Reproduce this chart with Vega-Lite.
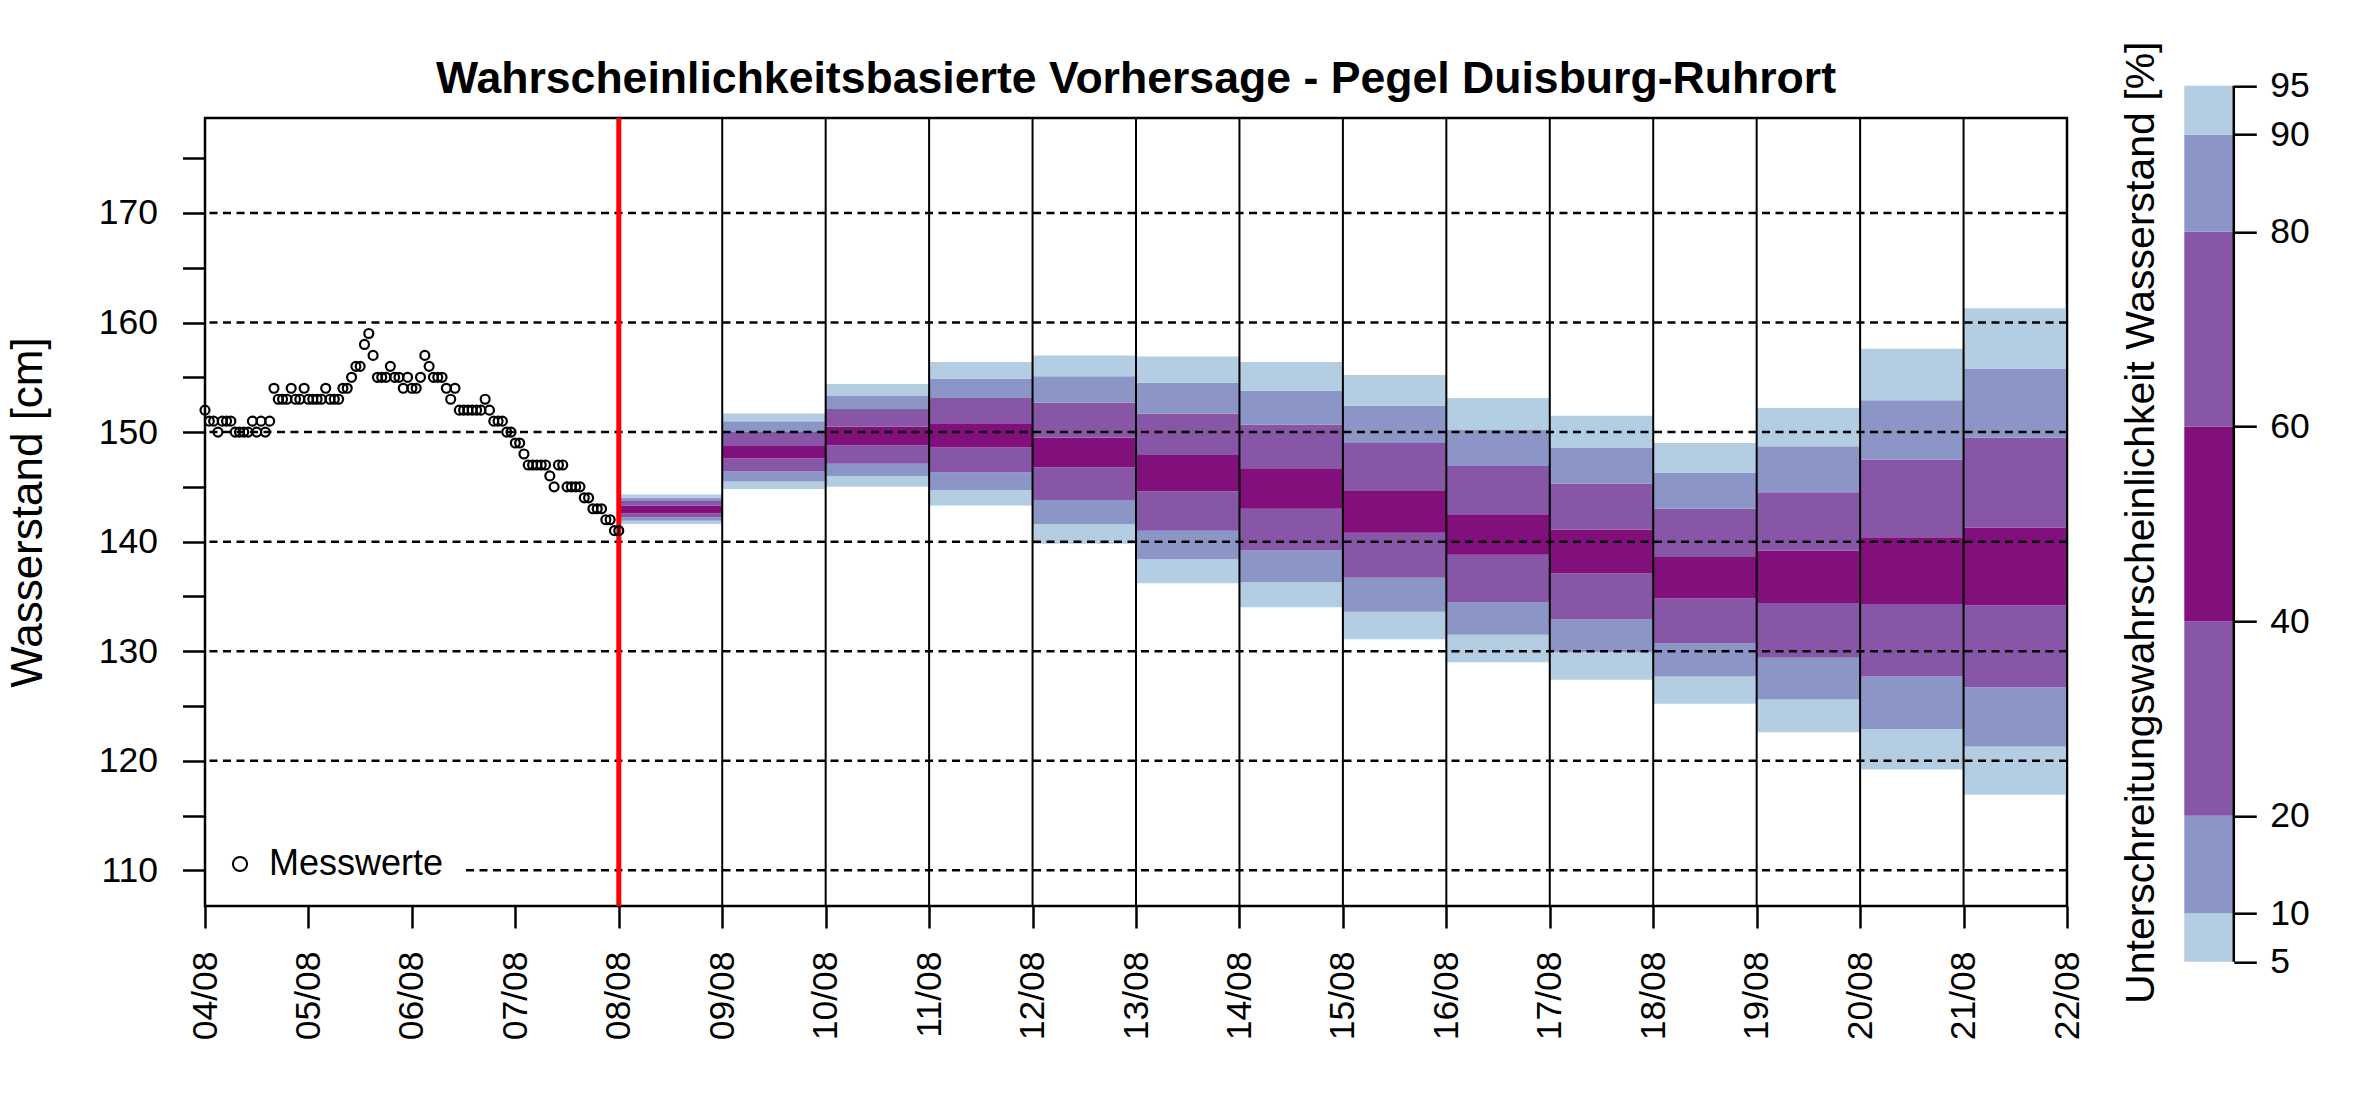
{
  "$schema": "https://vega.github.io/schema/vega-lite/v6.json",
  "background": "white",
  "padding": {"left": 5, "top": 41, "right": 20, "bottom": 20},
  "datasets": {
    "messwerte": [
      {"t": "2023-08-04T00:00", "w": 152}, {"t": "2023-08-04T01:00", "w": 151}, {"t": "2023-08-04T02:00", "w": 151}, {"t": "2023-08-04T03:00", "w": 150},
      {"t": "2023-08-04T04:00", "w": 151}, {"t": "2023-08-04T05:00", "w": 151}, {"t": "2023-08-04T06:00", "w": 151}, {"t": "2023-08-04T07:00", "w": 150},
      {"t": "2023-08-04T08:00", "w": 150}, {"t": "2023-08-04T09:00", "w": 150}, {"t": "2023-08-04T10:00", "w": 150}, {"t": "2023-08-04T11:00", "w": 151},
      {"t": "2023-08-04T12:00", "w": 150}, {"t": "2023-08-04T13:00", "w": 151}, {"t": "2023-08-04T14:00", "w": 150}, {"t": "2023-08-04T15:00", "w": 151},
      {"t": "2023-08-04T16:00", "w": 154}, {"t": "2023-08-04T17:00", "w": 153}, {"t": "2023-08-04T18:00", "w": 153}, {"t": "2023-08-04T19:00", "w": 153},
      {"t": "2023-08-04T20:00", "w": 154}, {"t": "2023-08-04T21:00", "w": 153}, {"t": "2023-08-04T22:00", "w": 153}, {"t": "2023-08-04T23:00", "w": 154},
      {"t": "2023-08-05T00:00", "w": 153}, {"t": "2023-08-05T01:00", "w": 153}, {"t": "2023-08-05T02:00", "w": 153}, {"t": "2023-08-05T03:00", "w": 153},
      {"t": "2023-08-05T04:00", "w": 154}, {"t": "2023-08-05T05:00", "w": 153}, {"t": "2023-08-05T06:00", "w": 153}, {"t": "2023-08-05T07:00", "w": 153},
      {"t": "2023-08-05T08:00", "w": 154}, {"t": "2023-08-05T09:00", "w": 154}, {"t": "2023-08-05T10:00", "w": 155}, {"t": "2023-08-05T11:00", "w": 156},
      {"t": "2023-08-05T12:00", "w": 156}, {"t": "2023-08-05T13:00", "w": 158}, {"t": "2023-08-05T14:00", "w": 159}, {"t": "2023-08-05T15:00", "w": 157},
      {"t": "2023-08-05T16:00", "w": 155}, {"t": "2023-08-05T17:00", "w": 155}, {"t": "2023-08-05T18:00", "w": 155}, {"t": "2023-08-05T19:00", "w": 156},
      {"t": "2023-08-05T20:00", "w": 155}, {"t": "2023-08-05T21:00", "w": 155}, {"t": "2023-08-05T22:00", "w": 154}, {"t": "2023-08-05T23:00", "w": 155},
      {"t": "2023-08-06T00:00", "w": 154}, {"t": "2023-08-06T01:00", "w": 154}, {"t": "2023-08-06T02:00", "w": 155}, {"t": "2023-08-06T03:00", "w": 157},
      {"t": "2023-08-06T04:00", "w": 156}, {"t": "2023-08-06T05:00", "w": 155}, {"t": "2023-08-06T06:00", "w": 155}, {"t": "2023-08-06T07:00", "w": 155},
      {"t": "2023-08-06T08:00", "w": 154}, {"t": "2023-08-06T09:00", "w": 153}, {"t": "2023-08-06T10:00", "w": 154}, {"t": "2023-08-06T11:00", "w": 152},
      {"t": "2023-08-06T12:00", "w": 152}, {"t": "2023-08-06T13:00", "w": 152}, {"t": "2023-08-06T14:00", "w": 152}, {"t": "2023-08-06T15:00", "w": 152},
      {"t": "2023-08-06T16:00", "w": 152}, {"t": "2023-08-06T17:00", "w": 153}, {"t": "2023-08-06T18:00", "w": 152}, {"t": "2023-08-06T19:00", "w": 151},
      {"t": "2023-08-06T20:00", "w": 151}, {"t": "2023-08-06T21:00", "w": 151}, {"t": "2023-08-06T22:00", "w": 150}, {"t": "2023-08-06T23:00", "w": 150},
      {"t": "2023-08-07T00:00", "w": 149}, {"t": "2023-08-07T01:00", "w": 149}, {"t": "2023-08-07T02:00", "w": 148}, {"t": "2023-08-07T03:00", "w": 147},
      {"t": "2023-08-07T04:00", "w": 147}, {"t": "2023-08-07T05:00", "w": 147}, {"t": "2023-08-07T06:00", "w": 147}, {"t": "2023-08-07T07:00", "w": 147},
      {"t": "2023-08-07T08:00", "w": 146}, {"t": "2023-08-07T09:00", "w": 145}, {"t": "2023-08-07T10:00", "w": 147}, {"t": "2023-08-07T11:00", "w": 147},
      {"t": "2023-08-07T12:00", "w": 145}, {"t": "2023-08-07T13:00", "w": 145}, {"t": "2023-08-07T14:00", "w": 145}, {"t": "2023-08-07T15:00", "w": 145},
      {"t": "2023-08-07T16:00", "w": 144}, {"t": "2023-08-07T17:00", "w": 144}, {"t": "2023-08-07T18:00", "w": 143}, {"t": "2023-08-07T19:00", "w": 143},
      {"t": "2023-08-07T20:00", "w": 143}, {"t": "2023-08-07T21:00", "w": 142}, {"t": "2023-08-07T22:00", "w": 142}, {"t": "2023-08-07T23:00", "w": 141},
      {"t": "2023-08-08T00:00", "w": 141}
    ],
    "prognose": [
      {"t": "2023-08-08T00:00", "t2": "2023-08-09T00:00", "q05": 141.6, "q10": 141.9, "q20": 142.2, "q40": 142.6, "q60": 143.3, "q80": 143.7, "q90": 144.0, "q95": 144.3},
      {"t": "2023-08-09T00:00", "t2": "2023-08-10T00:00", "q05": 144.8, "q10": 145.5, "q20": 146.4, "q40": 147.6, "q60": 148.8, "q80": 150.0, "q90": 151.0, "q95": 151.7},
      {"t": "2023-08-10T00:00", "t2": "2023-08-11T00:00", "q05": 145.0, "q10": 146.0, "q20": 147.1, "q40": 148.8, "q60": 150.5, "q80": 152.1, "q90": 153.3, "q95": 154.4},
      {"t": "2023-08-11T00:00", "t2": "2023-08-12T00:00", "q05": 143.3, "q10": 144.7, "q20": 146.3, "q40": 148.6, "q60": 150.8, "q80": 153.1, "q90": 154.9, "q95": 156.4},
      {"t": "2023-08-12T00:00", "t2": "2023-08-13T00:00", "q05": 139.8, "q10": 141.6, "q20": 143.8, "q40": 146.8, "q60": 149.5, "q80": 152.7, "q90": 155.1, "q95": 157.0},
      {"t": "2023-08-13T00:00", "t2": "2023-08-14T00:00", "q05": 136.2, "q10": 138.4, "q20": 141.0, "q40": 144.6, "q60": 147.9, "q80": 151.7, "q90": 154.5, "q95": 156.9},
      {"t": "2023-08-14T00:00", "t2": "2023-08-15T00:00", "q05": 134.0, "q10": 136.3, "q20": 139.2, "q40": 143.0, "q60": 146.7, "q80": 150.7, "q90": 153.8, "q95": 156.4},
      {"t": "2023-08-15T00:00", "t2": "2023-08-16T00:00", "q05": 131.1, "q10": 133.6, "q20": 136.7, "q40": 140.8, "q60": 144.7, "q80": 149.0, "q90": 152.4, "q95": 155.2},
      {"t": "2023-08-16T00:00", "t2": "2023-08-17T00:00", "q05": 129.0, "q10": 131.5, "q20": 134.5, "q40": 138.8, "q60": 142.5, "q80": 146.9, "q90": 150.2, "q95": 153.1},
      {"t": "2023-08-17T00:00", "t2": "2023-08-18T00:00", "q05": 127.4, "q10": 129.9, "q20": 132.9, "q40": 137.1, "q60": 141.1, "q80": 145.3, "q90": 148.6, "q95": 151.5},
      {"t": "2023-08-18T00:00", "t2": "2023-08-19T00:00", "q05": 125.2, "q10": 127.7, "q20": 130.7, "q40": 134.8, "q60": 138.6, "q80": 143.0, "q90": 146.3, "q95": 149.0},
      {"t": "2023-08-19T00:00", "t2": "2023-08-20T00:00", "q05": 122.6, "q10": 125.6, "q20": 129.4, "q40": 134.4, "q60": 139.2, "q80": 144.5, "q90": 148.7, "q95": 152.2},
      {"t": "2023-08-20T00:00", "t2": "2023-08-21T00:00", "q05": 119.2, "q10": 122.9, "q20": 127.7, "q40": 134.3, "q60": 140.4, "q80": 147.5, "q90": 152.9, "q95": 157.6},
      {"t": "2023-08-21T00:00", "t2": "2023-08-22T00:00", "q05": 116.9, "q10": 121.3, "q20": 126.7, "q40": 134.2, "q60": 141.3, "q80": 149.5, "q90": 155.8, "q95": 161.3}
    ],
    "tage": [
      {"t": "2023-08-09T00:00"}, {"t": "2023-08-10T00:00"}, {"t": "2023-08-11T00:00"}, {"t": "2023-08-12T00:00"},
      {"t": "2023-08-13T00:00"}, {"t": "2023-08-14T00:00"}, {"t": "2023-08-15T00:00"}, {"t": "2023-08-16T00:00"},
      {"t": "2023-08-17T00:00"}, {"t": "2023-08-18T00:00"}, {"t": "2023-08-19T00:00"}, {"t": "2023-08-20T00:00"},
      {"t": "2023-08-21T00:00"}, {"t": "2023-08-22T00:00"}
    ],
    "gitter": [
      {"w": 110}, {"w": 120}, {"w": 130}, {"w": 140}, {"w": 150}, {"w": 160}, {"w": 170}
    ],
    "skala": [
      {"unten": 5, "oben": 10, "stufe": "5-10"},
      {"unten": 10, "oben": 20, "stufe": "10-20"},
      {"unten": 20, "oben": 40, "stufe": "20-40"},
      {"unten": 40, "oben": 60, "stufe": "40-60"},
      {"unten": 60, "oben": 80, "stufe": "60-80"},
      {"unten": 80, "oben": 90, "stufe": "80-90"},
      {"unten": 90, "oben": 95, "stufe": "90-95"}
    ]
  },
  "bounds": "flush",
  "center": true,
  "spacing": 117.3,
  "resolve": {"legend": {"shape": "independent", "color": "independent"}},
  "hconcat": [
    {
      "width": 1862,
      "height": 788,
      "view": {"stroke": "black", "strokeWidth": 2.5},
      "title": {
        "text": "Wahrscheinlichkeitsbasierte Vorhersage - Pegel Duisburg-Ruhrort",
        "fontSize": 44.6,
        "fontWeight": "bold",
        "baseline": "alphabetic",
        "offset": -22,
        "frame": "group",
        "anchor": "middle"
      },
      "layer": [
        {
          "data": {"name": "prognose"},
          "mark": {"type": "rect", "color": "#b3cde3"},
          "encoding": {
            "x": {"field": "t", "type": "temporal", "scale": {"domain": [{"year": 2023, "month": 8, "date": 4}, {"year": 2023, "month": 8, "date": 22}], "nice": false}, "axis": {"title": null}},
            "x2": {"field": "t2"},
            "y": {"field": "q05", "type": "quantitative", "scale": {"domain": [106.74, 178.67], "nice": false, "zero": false}, "axis": {"title": "Wasserstand [cm]"}},
            "y2": {"field": "q10"}
          }
        },
        {
          "data": {"name": "prognose"},
          "mark": {"type": "rect", "color": "#8c96c6"},
          "encoding": {
            "x": {"field": "t", "type": "temporal", "scale": {"domain": [{"year": 2023, "month": 8, "date": 4}, {"year": 2023, "month": 8, "date": 22}], "nice": false}, "axis": {"title": null}},
            "x2": {"field": "t2"},
            "y": {"field": "q10", "type": "quantitative", "scale": {"domain": [106.74, 178.67], "nice": false, "zero": false}, "axis": {"title": "Wasserstand [cm]"}},
            "y2": {"field": "q20"}
          }
        },
        {
          "data": {"name": "prognose"},
          "mark": {"type": "rect", "color": "#8856a7"},
          "encoding": {
            "x": {"field": "t", "type": "temporal", "scale": {"domain": [{"year": 2023, "month": 8, "date": 4}, {"year": 2023, "month": 8, "date": 22}], "nice": false}, "axis": {"title": null}},
            "x2": {"field": "t2"},
            "y": {"field": "q20", "type": "quantitative", "scale": {"domain": [106.74, 178.67], "nice": false, "zero": false}, "axis": {"title": "Wasserstand [cm]"}},
            "y2": {"field": "q40"}
          }
        },
        {
          "data": {"name": "prognose"},
          "mark": {"type": "rect", "color": "#810f7c"},
          "encoding": {
            "x": {"field": "t", "type": "temporal", "scale": {"domain": [{"year": 2023, "month": 8, "date": 4}, {"year": 2023, "month": 8, "date": 22}], "nice": false}, "axis": {"title": null}},
            "x2": {"field": "t2"},
            "y": {"field": "q40", "type": "quantitative", "scale": {"domain": [106.74, 178.67], "nice": false, "zero": false}, "axis": {"title": "Wasserstand [cm]"}},
            "y2": {"field": "q60"}
          }
        },
        {
          "data": {"name": "prognose"},
          "mark": {"type": "rect", "color": "#8856a7"},
          "encoding": {
            "x": {"field": "t", "type": "temporal", "scale": {"domain": [{"year": 2023, "month": 8, "date": 4}, {"year": 2023, "month": 8, "date": 22}], "nice": false}, "axis": {"title": null}},
            "x2": {"field": "t2"},
            "y": {"field": "q60", "type": "quantitative", "scale": {"domain": [106.74, 178.67], "nice": false, "zero": false}, "axis": {"title": "Wasserstand [cm]"}},
            "y2": {"field": "q80"}
          }
        },
        {
          "data": {"name": "prognose"},
          "mark": {"type": "rect", "color": "#8c96c6"},
          "encoding": {
            "x": {"field": "t", "type": "temporal", "scale": {"domain": [{"year": 2023, "month": 8, "date": 4}, {"year": 2023, "month": 8, "date": 22}], "nice": false}, "axis": {"title": null}},
            "x2": {"field": "t2"},
            "y": {"field": "q80", "type": "quantitative", "scale": {"domain": [106.74, 178.67], "nice": false, "zero": false}, "axis": {"title": "Wasserstand [cm]"}},
            "y2": {"field": "q90"}
          }
        },
        {
          "data": {"name": "prognose"},
          "mark": {"type": "rect", "color": "#b3cde3"},
          "encoding": {
            "x": {"field": "t", "type": "temporal", "scale": {"domain": [{"year": 2023, "month": 8, "date": 4}, {"year": 2023, "month": 8, "date": 22}], "nice": false}, "axis": {"title": null}},
            "x2": {"field": "t2"},
            "y": {"field": "q90", "type": "quantitative", "scale": {"domain": [106.74, 178.67], "nice": false, "zero": false}, "axis": {"title": "Wasserstand [cm]"}},
            "y2": {"field": "q95"}
          }
        },
        {
          "data": {"name": "tage"},
          "mark": {"type": "rule", "color": "black", "strokeWidth": 2},
          "encoding": {
            "x": {
              "field": "t", "type": "temporal",
              "scale": {"domain": [{"year": 2023, "month": 8, "date": 4}, {"year": 2023, "month": 8, "date": 22}], "nice": false},
              "axis": {
                "title": null,
                "tickCount": {"interval": "day", "step": 1},
                "format": "%d/%m",
                "labelAngle": 270,
                "labelFlush": false,
                "labelOverlap": false,
                "tickSize": 22,
                "tickWidth": 2.5,
                "labelPadding": 23,
                "domain": false
              }
            }
          }
        },
        {
          "data": {"name": "gitter"},
          "mark": {"type": "rule", "color": "black", "strokeWidth": 2.5, "strokeDash": [8, 5.5]},
          "encoding": {
            "y": {
              "field": "w", "type": "quantitative",
              "scale": {"domain": [106.74, 178.67], "nice": false, "zero": false},
              "axis": {
                "title": "Wasserstand [cm]",
                "titleFontSize": 44,
                "titlePadding": 48,
                "values": [110, 115, 120, 125, 130, 135, 140, 145, 150, 155, 160, 165, 170, 175],
                "labelExpr": "datum.value % 10 === 0 ? datum.label : ''",
                "labelOverlap": false,
                "labelFlush": false,
                "tickSize": 22.5,
                "tickWidth": 2.5,
                "labelPadding": 25,
                "domain": false
              }
            }
          }
        },
        {
          "data": {"values": [{"t": "2023-08-08T00:00"}]},
          "mark": {"type": "rule", "color": "#ff0000", "strokeWidth": 5},
          "encoding": {
            "x": {"field": "t", "type": "temporal", "scale": {"domain": [{"year": 2023, "month": 8, "date": 4}, {"year": 2023, "month": 8, "date": 22}], "nice": false}, "axis": {"title": null}}
          }
        },
        {
          "data": {"name": "messwerte"},
          "mark": {"type": "point", "filled": false, "color": "black", "strokeWidth": 2.2, "size": 80, "opacity": 1},
          "encoding": {
            "x": {"field": "t", "type": "temporal", "scale": {"domain": [{"year": 2023, "month": 8, "date": 4}, {"year": 2023, "month": 8, "date": 22}], "nice": false}, "axis": {"title": null}},
            "y": {"field": "w", "type": "quantitative", "scale": {"domain": [106.74, 178.67], "nice": false, "zero": false}, "axis": {"title": "Wasserstand [cm]"}},
            "shape": {
              "datum": "Messwerte",
              "type": "nominal",
              "scale": {"range": ["circle"]},
              "legend": {
                "title": null,
                "orient": "bottom-left",
                "offset": 2,
                "padding": 22,
                "fillColor": "white",
                "labelFontSize": 36,
                "labelFont": "Liberation Sans",
                "labelColor": "black",
                "labelLimit": 0,
                "labelOffset": 11,
                "symbolOffset": -7,
                "symbolSize": 200,
                "symbolStrokeWidth": 2,
                "symbolStrokeColor": "black",
                "symbolFillColor": "transparent"
              }
            }
          }
        }
      ]
    },
    {
      "width": 49.5,
      "height": 899.6,
      "layer": [
        {
          "data": {"name": "skala"},
          "mark": {"type": "rect"},
          "encoding": {
            "x": {"datum": 0, "type": "quantitative", "scale": {"domain": [0, 1], "nice": false, "zero": false}, "axis": null},
            "x2": {"datum": 1},
            "y": {
              "field": "unten", "type": "quantitative",
              "scale": {"domain": [5, 97.43], "nice": false, "zero": false},
              "axis": {
                "orient": "left",
                "title": "Unterschreitungswahrscheinlichkeit Wasserstand [%]",
                "titleFontSize": 41,
                "titleAngle": 270,
                "titleAlign": "center",
                "titleBaseline": "alphabetic",
                "titleX": -31,
                "titleY": 460,
                "ticks": false,
                "labels": false,
                "domain": false
              }
            },
            "y2": {"field": "oben"},
            "color": {
              "field": "stufe", "type": "nominal",
              "scale": {
                "domain": ["5-10", "10-20", "20-40", "40-60", "60-80", "80-90", "90-95"],
                "range": ["#b3cde3", "#8c96c6", "#8856a7", "#810f7c", "#8856a7", "#8c96c6", "#b3cde3"]
              },
              "legend": null
            }
          }
        },
        {
          "data": {"values": [{"unten": 5, "oben": 95}]},
          "mark": {"type": "rule", "color": "black", "strokeWidth": 2.5},
          "encoding": {
            "x": {"datum": 1, "type": "quantitative", "scale": {"domain": [0, 1], "nice": false, "zero": false}, "axis": null},
            "y": {
              "field": "unten", "type": "quantitative",
              "scale": {"domain": [5, 97.43], "nice": false, "zero": false},
              "axis": {
                "orient": "right",
                "title": null,
                "values": [5, 10, 20, 40, 60, 80, 90, 95],
                "tickSize": 22.5,
                "tickWidth": 2.5,
                "labelPadding": 13.5,
                "labelFontSize": 35.5,
                "labelOverlap": false,
                "labelFlush": false,
                "domain": false
              }
            },
            "y2": {"field": "oben"}
          }
        }
      ],
      "resolve": {"scale": {"y": "independent"}, "axis": {"y": "independent"}}
    }
  ],
  "config": {
    "font": "Liberation Sans",
    "view": {"stroke": null},
    "axis": {
      "labelFont": "Liberation Sans",
      "titleFont": "Liberation Sans",
      "labelColor": "black",
      "titleColor": "black",
      "tickColor": "black",
      "labelFontSize": 35.5,
      "titleFontWeight": "normal",
      "grid": false,
      "minExtent": 0
    },
    "title": {"font": "Liberation Sans", "color": "black"}
  }
}
